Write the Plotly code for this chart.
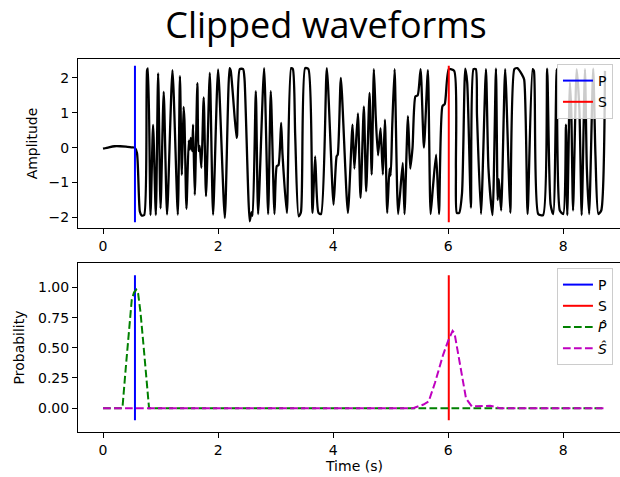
import plotly.graph_objects as go

# ---------------- data ----------------
wave_t = [0.00, 0.10, 0.20, 0.30, 0.40, 0.50, 0.55, 0.59, 0.64, 0.67, 0.715, 0.766, 0.78, 0.825, 0.87,
          0.918, 0.958, 1.00, 1.055, 1.113, 1.207, 1.30, 1.337, 1.37, 1.40, 1.415, 1.45, 1.49, 1.51,
          1.525, 1.55, 1.565, 1.595, 1.64, 1.66, 1.68, 1.71, 1.75, 1.79, 1.856, 1.913, 2.00, 2.117,
          2.20, 2.22, 2.32, 2.33, 2.377, 2.435, 2.46, 2.55, 2.58, 2.60, 2.656, 2.696, 2.80, 2.87,
          2.916, 2.98, 3.02, 3.05, 3.096, 3.12, 3.195, 3.27, 3.30, 3.34, 3.40, 3.44, 3.513, 3.57,
          3.64, 3.687, 3.745, 3.79, 3.89, 4.007, 4.06, 4.08, 4.134, 4.256, 4.337, 4.37, 4.43, 4.476,
          4.534, 4.574, 4.633, 4.67, 4.708, 4.74, 4.78, 4.824, 4.864, 4.90, 4.94, 4.98, 5.00, 5.026,
          5.068, 5.13, 5.21, 5.24, 5.30, 5.34, 5.38, 5.43, 5.47, 5.52, 5.578, 5.647, 5.694, 5.734,
          5.79, 5.84, 5.90, 5.94, 6.01, 6.104, 6.134, 6.15, 6.19, 6.24, 6.296, 6.33, 6.395, 6.44,
          6.48, 6.50, 6.57, 6.656, 6.70, 6.77, 6.83, 6.86, 6.88, 6.92, 6.99, 7.05, 7.08, 7.15, 7.20,
          7.28, 7.32, 7.38, 7.468, 7.49, 7.565, 7.65, 7.72, 7.78, 7.826, 7.885, 7.94, 8.00, 8.047,
          8.07, 8.116, 8.14, 8.17, 8.233, 8.28, 8.32, 8.377, 8.41, 8.45, 8.52, 8.56, 8.61, 8.66, 8.725]
wave_amp = [-0.03, 0.01, 0.04, 0.04, 0.03, 0.01, 0.00, -0.15, -1.83, -1.94, -1.93, 2.22, 2.27, -1.93, 0.65,
            -1.93, 2.13, -1.74, 1.60, -1.91, 2.22, -1.92, 2.05, -0.78, 1.17, 0.80, -1.75, 0.20, -0.05,
            0.28, -0.10, 0.66, -1.35, 1.85, -0.10, 0.05, -0.58, 1.44, -1.39, 2.14, -1.92, 2.24, -2.01,
            2.28, 2.20, 0.28, 0.35, 2.25, 2.25, 1.95, -2.11, -1.85, -1.95, 1.62, -1.90, 2.28, -1.90,
            1.62, -1.90, -0.53, -0.50, 0.71, -0.20, -1.87, 2.28, 2.25, 0.37, -1.97, -1.85, 2.28, 2.25,
            -1.87, -0.25, -1.87, -1.90, 2.28, -1.63, -0.25, -0.20, 2.00, -1.87, 0.66, -0.60, 0.98, -1.44,
            1.18, -1.25, 1.57, -0.77, 2.25, 0.90, -0.22, 0.56, -0.77, 0.80, -1.87, -0.60, -0.80, 0.56,
            2.25, -1.90, -0.44, -1.90, 0.90, -0.60, 0.00, 1.47, 1.50, 2.25, 0.00, 2.22, -1.90, -1.14,
            -0.20, -1.90, 1.19, 1.25, 2.25, 2.20, -0.60, -1.87, -1.87, -1.30, 2.26, 1.87, -1.72, 2.25,
            2.25, 0.95, -1.90, 2.25, -0.60, -1.93, 2.26, -1.50, -0.90, -1.80, 2.25, -0.60, -1.87, 2.25, 2.28,
            2.10, 1.95, -1.90, 2.25, 2.20, -1.90, -1.93, 2.26, -1.63, -1.90, 2.25, -1.80, -1.90, 0.66,
            -1.93, 1.87, 1.00, -1.80, 2.25, 1.10, -1.93, 2.25, -0.60, -1.90, 2.26, -0.25, -1.90, -1.80, 2.20]

p_pick = 0.555
s_pick = 6.01
wave_pick_span = [-2.14, 2.35]
prob_pick_span = [-0.1, 1.1]

phat_t = [0.0, 0.337, 0.40, 0.46, 0.50, 0.54, 0.58, 0.61, 0.65, 0.70, 0.75, 0.80, 8.725]
phat = [0.0, 0.0, 0.36, 0.71, 0.90, 0.96, 0.98, 0.95, 0.80, 0.54, 0.27, 0.0, 0.0]

shat_t = [0.0, 5.39, 5.57, 5.66, 5.77, 5.91, 6.00, 6.076, 6.11, 6.20, 6.31, 6.41, 6.60, 6.73, 6.90, 8.725]
shat = [0.0, 0.0, 0.03, 0.055, 0.21, 0.44, 0.56, 0.64, 0.62, 0.39, 0.08, 0.015, 0.015, 0.02, 0.0, 0.0]

x_ticks = [0, 2, 4, 6, 8]
amp_ticks = [-2, -1, 0, 1, 2]
prob_ticks = [0.0, 0.25, 0.5, 0.75, 1.0]

# ---------------- figure ----------------
W, H = 620, 477
L = 78.3
FONT = "DejaVu Sans"
dash = "7.7px,3.3px"

fig = go.Figure()

# top panel
fig.add_trace(go.Scatter(x=wave_t, y=wave_amp, mode="lines",
                         line=dict(color="black", width=2.3, shape="spline", smoothing=0.6),
                         showlegend=False, xaxis="x", yaxis="y"))
fig.add_trace(go.Scatter(x=[p_pick, p_pick], y=wave_pick_span, mode="lines", name="P",
                         line=dict(color="#0000ff", width=2), legend="legend", xaxis="x", yaxis="y"))
fig.add_trace(go.Scatter(x=[s_pick, s_pick], y=wave_pick_span, mode="lines", name="S",
                         line=dict(color="#ff0000", width=2), legend="legend", xaxis="x", yaxis="y"))

# bottom panel
fig.add_trace(go.Scatter(x=[p_pick, p_pick], y=prob_pick_span, mode="lines", name="P",
                         line=dict(color="#0000ff", width=2), legend="legend2", xaxis="x2", yaxis="y2"))
fig.add_trace(go.Scatter(x=[s_pick, s_pick], y=prob_pick_span, mode="lines", name="S",
                         line=dict(color="#ff0000", width=2), legend="legend2", xaxis="x2", yaxis="y2"))
fig.add_trace(go.Scatter(x=phat_t, y=phat, mode="lines", name="<i>P\u0302</i>",
                         line=dict(color="#008000", width=2, dash=dash), legend="legend2",
                         xaxis="x2", yaxis="y2"))
fig.add_trace(go.Scatter(x=shat_t, y=shat, mode="lines", name="<i>S\u0302</i>",
                         line=dict(color="#bf00bf", width=2, dash=dash), legend="legend2",
                         xaxis="x2", yaxis="y2"))

x_right = (W - 103.3) / 57.5
xr = [-0.435, x_right]

def ax(**kw):
    d = dict(showline=True, linecolor="black", linewidth=1, ticks="outside", ticklen=5,
             tickwidth=1, tickcolor="black", showgrid=False, zeroline=False,
             tickfont=dict(family=FONT, size=14, color="black"), automargin=False)
    d.update(kw)
    return d

def ydom(top_px, bot_px):
    return [1 - bot_px / H, 1 - top_px / H]

pw = W - L
def px2paper(px):
    return (px - L) / pw

legend_style = dict(bgcolor="rgba(255,255,255,0.8)", bordercolor="#cccccc", borderwidth=1,
                    font=dict(family=FONT, size=14, color="black"), xanchor="left", yanchor="top",
                    tracegroupgap=0, itemwidth=30)

fig.update_layout(
    width=W, height=H,
    margin=dict(l=L, r=0, t=0, b=0),
    paper_bgcolor="white", plot_bgcolor="white",
    showlegend=True,
    title=dict(text="Clipped waveforms", font=dict(family="Open Sans", size=36, color="black"),
               x=326 / W, xref="container", xanchor="center",
               y=1 - 25.5 / H, yref="container", yanchor="middle"),
    xaxis=ax(domain=[0, 1], range=xr, tickvals=x_ticks, mirror=True, anchor="y"),
    yaxis=ax(domain=ydom(59, 228.3), range=[-2.31, 2.54], tickvals=amp_ticks, mirror=False,
             anchor="x"),
    xaxis2=ax(domain=[0, 1], range=xr, tickvals=x_ticks, mirror=True, anchor="y2"),
    yaxis2=ax(domain=ydom(263.3, 432.3), range=[-0.2, 1.2], tickvals=prob_ticks,
              tickformat=".2f", mirror=False, anchor="x2"),
    legend=dict(x=px2paper(557), y=1 - 64 / H, **legend_style),
    legend2=dict(x=px2paper(557), y=1 - 268 / H, **legend_style),
    annotations=[
        dict(text="Amplitude", x=px2paper(32), y=1 - 143.7 / H, xref="paper", yref="paper",
             textangle=-90, showarrow=False, xanchor="center", yanchor="middle",
             font=dict(family=FONT, size=14, color="black")),
        dict(text="Probability", x=px2paper(19), y=1 - 347.8 / H, xref="paper", yref="paper",
             textangle=-90, showarrow=False, xanchor="center", yanchor="middle",
             font=dict(family=FONT, size=14, color="black")),
        dict(text="Time (s)", x=px2paper(354), y=1 - 466 / H, xref="paper", yref="paper",
             showarrow=False, xanchor="center", yanchor="middle",
             font=dict(family=FONT, size=14, color="black")),
    ],
)

fig.write_html("out.html")
